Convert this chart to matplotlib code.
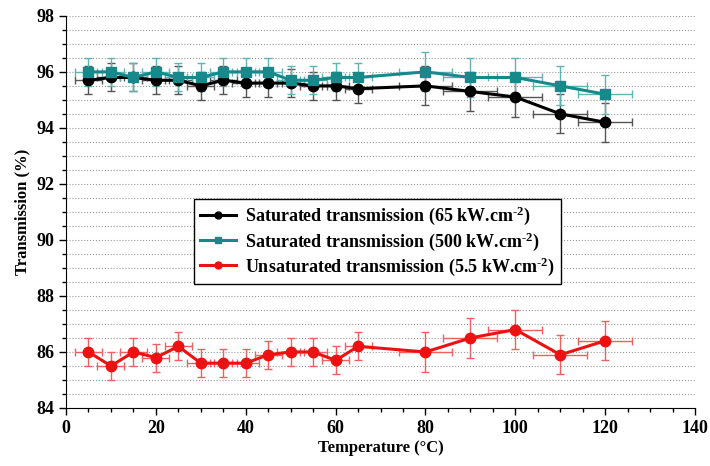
import matplotlib
matplotlib.use("Agg")
import matplotlib.pyplot as plt
from matplotlib.ticker import MultipleLocator

plt.rcParams["font.family"] = ["Liberation Serif", "DejaVu Serif"]
plt.rcParams["font.weight"] = "bold"
plt.rcParams["mathtext.fontset"] = "custom"
plt.rcParams["mathtext.rm"] = "Liberation Serif:bold"
plt.rcParams["mathtext.it"] = "Liberation Serif:bold"
plt.rcParams["mathtext.bf"] = "Liberation Serif:bold"

# temperatures (deg C)
temps = [5, 10, 15, 20, 25, 30, 35, 40, 45, 50, 55, 60, 65, 80, 90, 100, 110, 120]

# transmission (%) per series
sat65 = [95.7, 95.8, 95.8, 95.7, 95.7, 95.5, 95.7, 95.6, 95.6, 95.6, 95.5, 95.5, 95.4,
         95.5, 95.3, 95.1, 94.5, 94.2]
sat500 = [96.0, 96.0, 95.8, 96.0, 95.8, 95.8, 96.0, 96.0, 96.0, 95.7, 95.7, 95.8, 95.8,
          96.0, 95.8, 95.8, 95.5, 95.2]
unsat = [86.0, 85.5, 86.0, 85.8, 86.2, 85.6, 85.6, 85.6, 85.9, 86.0, 86.0, 85.7, 86.2,
         86.0, 86.5, 86.8, 85.9, 86.4]

# uncertainties
t_err = [3, 3, 3, 3, 3, 3, 3, 3, 3, 3, 3, 3, 3, 6, 6, 6, 6, 6]
tr_err = [0.5, 0.5, 0.5, 0.5, 0.5, 0.5, 0.5, 0.5, 0.5, 0.5, 0.5, 0.5, 0.5,
          0.7, 0.7, 0.7, 0.7, 0.7]

SUP = r"$^{\text{-}2}$"
SERIES = [
    ("Saturated transmission (65 kW.cm" + SUP + ")", sat65, "black", "#555555", "o"),
    ("Saturated transmission (500 kW.cm" + SUP + ")", sat500, "#17898a", "#5fb3b3", "s"),
    ("Unsaturated transmission (5.5 kW.cm" + SUP + ")", unsat, "#ee1111", "#f06060", "o"),
]

fig = plt.figure(figsize=(7.1, 4.66), dpi=100)
ax = fig.add_axes([0.093, 0.1245, 0.886, 0.8415])

for label, vals, color, ecolor, marker in SERIES:
    ax.errorbar(temps, vals, xerr=t_err, yerr=tr_err, fmt="none", ecolor=ecolor,
                elinewidth=1.0, capsize=3, capthick=1.0, zorder=2)
    ax.plot(temps, vals, color=color, marker=marker, markersize=7.5, linewidth=2.2,
            label=label, zorder=3)

ax.set_xlim(0, 140)
ax.set_ylim(84, 98)
ax.xaxis.set_major_locator(MultipleLocator(20))
ax.xaxis.set_minor_locator(MultipleLocator(5))
ax.yaxis.set_major_locator(MultipleLocator(2))
ax.yaxis.set_minor_locator(MultipleLocator(0.5))
ax.tick_params(which="major", direction="out", length=5, width=1, labelsize=13)
ax.tick_params(which="minor", direction="out", length=3, width=1)
for t in ax.get_xticklabels() + ax.get_yticklabels():
    t.set_fontweight("bold")
ax.spines["top"].set_visible(False)
ax.spines["right"].set_visible(False)
ax.grid(axis="y", which="both", linestyle=":", color="#999999", linewidth=0.8)
ax.set_axisbelow(True)

ax.set_xlabel("Temperature (°C)", fontsize=12, fontweight="bold", labelpad=2)
ax.set_ylabel("Transmission (%)", fontsize=12, fontweight="bold", labelpad=4)

leg = ax.legend(loc="center", bbox_to_anchor=(0.495, 0.425), fontsize=13,
                frameon=True, fancybox=False, edgecolor="black", framealpha=1,
                handlelength=2.0, borderpad=0.35, labelspacing=0.15, handletextpad=0.5)
leg.get_frame().set_linewidth(1.0)
for h in leg.legend_handles:
    h.set_markersize(5)

fig.savefig("out.png", dpi=100)
